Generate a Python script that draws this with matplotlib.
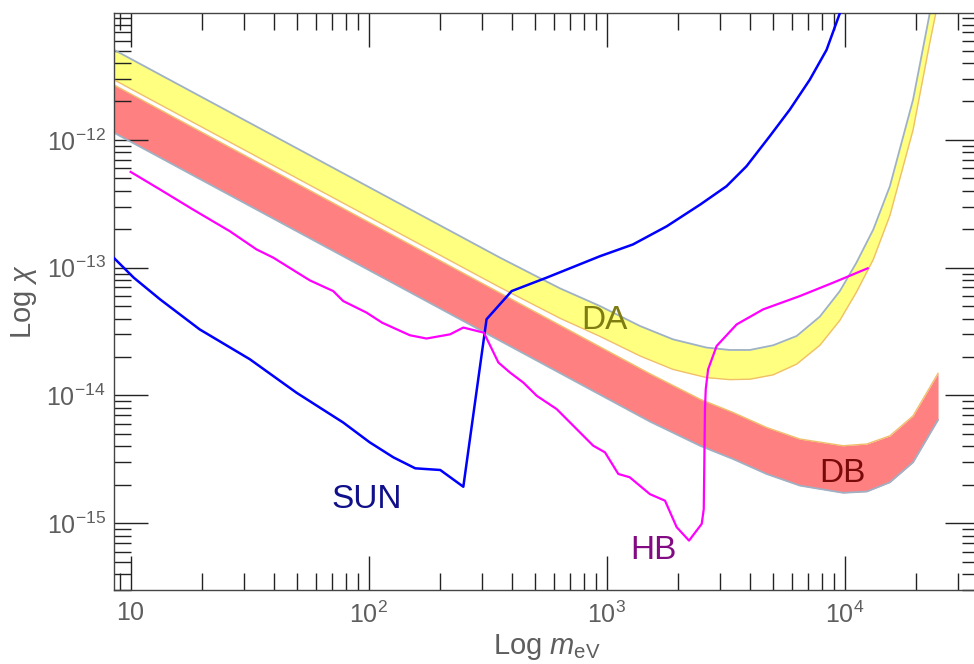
import numpy as np
import matplotlib
matplotlib.use("Agg")
import matplotlib.pyplot as plt
from matplotlib.ticker import LogLocator, NullFormatter, FixedLocator, FixedFormatter

plt.rcParams['font.family'] = ['Liberation Sans', 'DejaVu Sans']
plt.rcParams['mathtext.fontset'] = 'custom'
plt.rcParams['mathtext.rm'] = 'Liberation Sans'
plt.rcParams['mathtext.it'] = 'Liberation Sans:italic'

# --- data (m in eV, chi dimensionless) ---
sun_m = [8.4, 10.3, 13.3, 19.5, 31.7, 49.8, 78.1, 101, 127, 157, 200, 250,
         313, 399, 560, 938, 1290, 1790, 2480, 3190, 3870, 4850, 5890, 7140,
         8400, 9550, 10000]
sun_chi = [1.22e-13, 8.36e-14, 5.65e-14, 3.29e-14, 1.92e-14, 1.05e-14, 6.15e-15,
           4.3e-15, 3.28e-15, 2.69e-15, 2.61e-15, 1.93e-15, 3.95e-14, 6.56e-14,
           8.36e-14, 1.23e-13, 1.52e-13, 2.11e-13, 3.13e-13, 4.34e-13, 6.22e-13,
           1.07e-12, 1.73e-12, 2.96e-12, 5.07e-12, 9.8e-12, 1.25e-11]

hb_m = [10, 13.3, 18.3, 26.1, 33.8, 39.7, 56.6, 71, 78.2, 98, 114, 149, 175,
        220, 250, 305, 351, 393, 447, 509, 617, 748, 879, 984, 1120, 1250,
        1520, 1760, 1970, 2220, 2510, 2560, 2590, 2610, 2670, 2900, 3520, 4550,
        6490, 8960, 12500]
hb_chi = [5.62e-13, 4.09e-13, 2.85e-13, 1.93e-13, 1.39e-13, 1.2e-13, 7.96e-14,
          6.56e-14, 5.48e-14, 4.45e-14, 3.71e-14, 2.96e-14, 2.79e-14, 3.01e-14,
          3.4e-14, 3.1e-14, 1.81e-14, 1.51e-14, 1.26e-14, 9.93e-15, 7.82e-15,
          5.46e-15, 4.04e-15, 3.59e-15, 2.43e-15, 2.29e-15, 1.69e-15, 1.5e-15,
          9.31e-16, 7.31e-16, 9.89e-16, 1.29e-15, 7.82e-15, 1.12e-14, 1.6e-14,
          2.44e-14, 3.6e-14, 4.72e-14, 6.0e-14, 7.64e-14, 9.89e-14]

# DA band (white dwarfs, yellow)
da_m = [8.5, 356, 637, 938, 1380, 1900, 2630, 3290, 4000, 5010, 6290, 7870,
        9550, 11200, 13200, 15500, 19400, 22800, 24700]
da_hi = [5.08e-12, 1.2e-13, 6.89e-14, 5.01e-14, 3.5e-14, 2.75e-14, 2.37e-14,
         2.27e-14, 2.27e-14, 2.47e-14, 2.92e-14, 4.14e-14, 6.56e-14, 1.09e-13,
         1.99e-13, 4.34e-13, 2.07e-12, 9.81e-12, 2.07e-11]
da_lo = [2.96e-12, 7.02e-14, 4.02e-14, 2.9e-14, 2.04e-14, 1.6e-14, 1.38e-14,
         1.33e-14, 1.34e-14, 1.45e-14, 1.76e-14, 2.47e-14, 3.87e-14, 6.41e-14,
         1.16e-13, 2.56e-13, 1.2e-12, 5.75e-12, 1.2e-11]

# DB band (red)
db_m = [8.5, 1520, 2470, 3400, 4700, 6490, 9860, 12400, 15500, 19400, 24700]
db_hi = [2.7e-12, 1.48e-14, 9.35e-15, 7.36e-15, 5.62e-15, 4.56e-15, 4.04e-15,
         4.17e-15, 4.83e-15, 6.93e-15, 1.49e-14]
db_lo = [1.14e-12, 6.25e-15, 4.04e-15, 3.18e-15, 2.43e-15, 1.97e-15, 1.73e-15,
         1.77e-15, 2.09e-15, 3.0e-15, 6.44e-15]

x_ticks = [10, 100, 1000, 10000]
x_ticklabels = ['$10$', '$10^{2}$', '$10^{3}$', '$10^{4}$']
y_ticks = [1e-15, 1e-14, 1e-13, 1e-12]
y_ticklabels = ['$10^{-15}$', '$10^{-14}$', '$10^{-13}$', '$10^{-12}$']

labels = ['SUN', 'HB', 'DA', 'DB']
label_m = [98, 1570, 975, 9750]
label_chi = [1.32e-15, 5.27e-16, 3.3e-14, 2.09e-15]
label_colors = ['#10108a', '#820a82', '#7d7d12', '#7a0a0a']

gray_edge = '#9fb1c4'
orange_edge = '#f0bf6c'
text_gray = '#5e5e5e'

fig = plt.figure(figsize=(9.74, 6.64), dpi=100)
ax = fig.add_axes([0.117, 0.1114, 0.8881, 0.8686])
ax.set_xscale('log')
ax.set_yscale('log')

# bands
ax.fill_between(da_m, da_lo, da_hi, color='#ffff80', lw=0, zorder=1)
ax.plot(da_m, da_hi, color=gray_edge, lw=1.3, zorder=2)
ax.plot(da_m, da_lo, color=orange_edge, lw=1.0, zorder=2)
ax.fill_between(db_m, db_lo, db_hi, color='#ff8080', lw=0, zorder=1)
ax.plot(db_m, db_hi, color=orange_edge, lw=1.0, zorder=2)
ax.plot(db_m, db_lo, color=gray_edge, lw=1.3, zorder=2)

# limit curves
ax.plot(sun_m, sun_chi, color='#0000ff', lw=1.8, zorder=3)
ax.plot(hb_m, hb_chi, color='#ff00ff', lw=1.6, zorder=3)

for txt, xm, yc, c in zip(labels, label_m, label_chi, label_colors):
    ax.text(xm, yc, txt, color=c, fontsize=24, ha='center', va='baseline', zorder=4)

ax.set_xlim(8.51, 36700)
ax.set_ylim(3.0e-16, 9.8e-12)

ax.xaxis.set_major_locator(FixedLocator(x_ticks))
ax.xaxis.set_major_formatter(FixedFormatter(x_ticklabels))
ax.yaxis.set_major_locator(FixedLocator(y_ticks))
ax.yaxis.set_major_formatter(FixedFormatter(y_ticklabels))
ax.xaxis.set_minor_locator(LogLocator(base=10, subs=np.arange(2, 10), numticks=20))
ax.yaxis.set_minor_locator(LogLocator(base=10, subs=np.arange(2, 10), numticks=20))
ax.xaxis.set_minor_formatter(NullFormatter())
ax.yaxis.set_minor_formatter(NullFormatter())

ax.tick_params(which='both', direction='in', top=True, right=True,
               color='#222222', width=1.0, labelcolor=text_gray, labelsize=18)
ax.tick_params(which='major', length=24.5)
ax.tick_params(which='minor', length=12.2)
ax.tick_params(axis='y', pad=6)
ax.tick_params(axis='x', pad=8)

for s in ax.spines.values():
    s.set_color('#444444')
    s.set_linewidth(1.0)

ax.set_xlabel(r'Log $m_{\rm eV}$', fontsize=21, color=text_gray, labelpad=3)
ax.set_ylabel(r'Log $\chi$', fontsize=21, color=text_gray, labelpad=5)

fig.savefig('out.png', dpi=100)
